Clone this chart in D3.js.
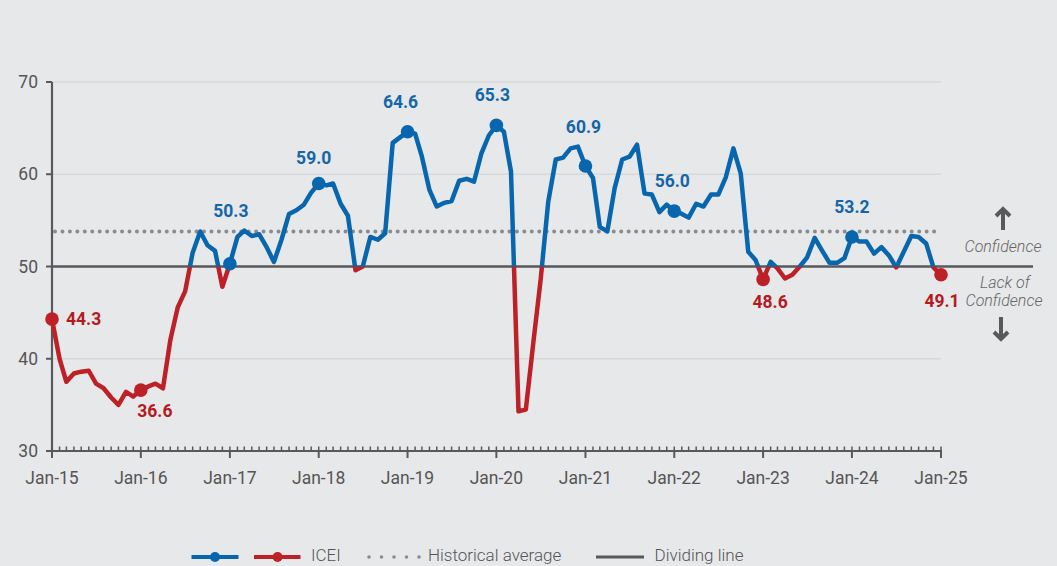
<!DOCTYPE html>
<html><head><meta charset="utf-8">
<script src="https://cdn.jsdelivr.net/npm/d3@7"></script>
<style>
html,body{margin:0;padding:0;background:#e7e8ea;}
svg{display:block;font-family:Roboto,"Open Sans",sans-serif;}
</style></head>
<body>
<svg id="chart" width="1057" height="566"></svg>
<script>
// ---- data ----
const startMonth = new Date(2015, 0, 1);
const iceiValues = [
 44.3,40.0,37.5,38.4,38.6,38.7,37.3,36.8,35.8,35.0,36.4,35.9,
 36.6,37.0,37.3,36.8,42.0,45.6,47.3,51.5,53.8,52.3,51.7,47.8,
 50.3,53.2,53.9,53.3,53.5,52.1,50.5,52.9,55.7,56.1,56.7,58.0,
 59.0,58.8,59.0,56.8,55.5,49.6,50.0,53.2,52.9,53.6,63.4,64.0,
 64.6,64.4,61.9,58.3,56.5,56.9,57.1,59.3,59.5,59.2,62.3,64.2,
 65.3,64.6,60.3,34.3,34.5,41.8,48.6,57.0,61.6,61.8,62.8,63.0,
 60.9,59.6,54.3,53.8,58.5,61.6,61.9,63.2,57.9,57.8,55.9,56.7,
 56.0,55.7,55.3,56.8,56.5,57.8,57.8,59.7,62.8,60.1,51.6,50.7,
 48.6,50.5,49.8,48.7,49.1,50.0,51.0,53.1,51.7,50.4,50.4,50.9,
 53.2,52.7,52.7,51.4,52.1,51.2,49.9,51.6,53.3,53.2,52.5,49.9,
 49.1
];
const highlightIdx = [0,12,24,36,48,60,72,84,96,108,120];
const historicalAverage = 53.8;
const dividingValue = 50;
const yTicks = [30,40,50,60,70];
const xTickLabels = ["Jan-15","Jan-16","Jan-17","Jan-18","Jan-19","Jan-20","Jan-21","Jan-22","Jan-23","Jan-24","Jan-25"];
const legendLabels = ["ICEI","Historical average","Dividing line"];

// ---- layout for the value labels (dx, dy, anchor) ----
const labelLayout = [
 [14,0,"start"],[14,21,"middle"],[1,-53,"middle"],[-5,-26,"middle"],[-7,-30,"middle"],
 [-4,-30,"middle"],[-2,-39,"middle"],[-2,-30,"middle"],[7,22,"middle"],[0,-30,"middle"],[1,26,"middle"]
];

const BLUE = "#0766ad", RED = "#bd2027", DARK = "#58595b", GREY = "#8a8b8d";
const BLUE_T = "#1466a9", RED_T = "#b51a21";

const dates = iceiValues.map((_, i) => d3.timeMonth.offset(startMonth, i));
const data = iceiValues.map((v, i) => ({date: dates[i], value: v, i}));

const svg = d3.select("#chart");
const x = d3.scaleTime().domain([dates[0], dates[dates.length-1]]).range([52, 941]);
const y = d3.scaleLinear().domain([30, 70]).range([451, 82]);

// gridlines
svg.append("g").selectAll("line").data(yTicks.filter(t => t !== 30 && t !== 50)).join("line")
  .attr("x1", x.range()[0]).attr("x2", x.range()[1])
  .attr("y1", d => y(d)).attr("y2", d => y(d))
  .attr("stroke", "#d7d8da").attr("stroke-width", 1.5);

// historical average dotted line
svg.append("line")
  .attr("x1", x.range()[0] + 3).attr("x2", 938)
  .attr("y1", y(historicalAverage)).attr("y2", y(historicalAverage))
  .attr("stroke", GREY).attr("stroke-width", 4)
  .attr("stroke-linecap", "round").attr("stroke-dasharray", "0 7.45");

// dividing line
svg.append("line")
  .attr("x1", x.range()[0]).attr("x2", 1033)
  .attr("y1", y(dividingValue)).attr("y2", y(dividingValue))
  .attr("stroke", DARK).attr("stroke-width", 2.6);

// y axis
const yAxis = svg.append("g");
yAxis.append("line").attr("x1", 52).attr("x2", 52).attr("y1", y(70)).attr("y2", y(30) + 1)
  .attr("stroke", DARK).attr("stroke-width", 2.2);
yAxis.selectAll(".yt").data(yTicks).join("line")
  .attr("x1", 46).attr("x2", 52).attr("y1", d => y(d)).attr("y2", d => y(d))
  .attr("stroke", DARK).attr("stroke-width", 2);
yAxis.selectAll("text").data(yTicks).join("text")
  .attr("x", 38).attr("y", d => y(d)).attr("dy", "0.35em")
  .attr("text-anchor", "end").attr("fill", "#555").attr("font-size", 17.5)
  .text(d => d);

// x axis
const xAxis = svg.append("g");
xAxis.append("line").attr("x1", 51).attr("x2", 942).attr("y1", 451).attr("y2", 451)
  .attr("stroke", DARK).attr("stroke-width", 2.2);
xAxis.selectAll(".minor").data(dates).join("line")
  .attr("x1", d => x(d)).attr("x2", d => x(d))
  .attr("y1", 446.5).attr("y2", 451)
  .attr("stroke", DARK).attr("stroke-width", 1.5);
const yearDates = d3.timeYear.range(dates[0], d3.timeMonth.offset(dates[dates.length-1], 1));
xAxis.selectAll(".major").data(yearDates).join("line")
  .attr("x1", d => x(d)).attr("x2", d => x(d))
  .attr("y1", 451).attr("y2", 458)
  .attr("stroke", DARK).attr("stroke-width", 2);
xAxis.selectAll("text").data(yearDates).join("text")
  .attr("x", d => x(d)).attr("y", 478).attr("dy", "0.35em")
  .attr("text-anchor", "middle").attr("fill", "#555").attr("font-size", 17.5)
  .text((d, i) => xTickLabels[i]);

// ICEI line, split colour at 50
const defs = svg.append("defs");
defs.append("clipPath").attr("id", "clipAbove").append("rect")
  .attr("x", 0).attr("y", 0).attr("width", 1057).attr("height", y(dividingValue));
defs.append("clipPath").attr("id", "clipBelow").append("rect")
  .attr("x", 0).attr("y", y(dividingValue)).attr("width", 1057).attr("height", 566 - y(dividingValue));

const line = d3.line().x(d => x(d.date)).y(d => y(d.value));
svg.append("path").datum(data).attr("d", line)
  .attr("fill", "none").attr("stroke", RED).attr("stroke-width", 4.5)
  .attr("stroke-linejoin", "round").attr("clip-path", "url(#clipBelow)");
svg.append("path").datum(data).attr("d", line)
  .attr("fill", "none").attr("stroke", BLUE).attr("stroke-width", 4.5)
  .attr("stroke-linejoin", "round").attr("clip-path", "url(#clipAbove)");

// highlighted points
const hl = highlightIdx.map(i => data[i]);
svg.append("g").selectAll("circle").data(hl).join("circle")
  .attr("cx", d => x(d.date)).attr("cy", d => y(d.value)).attr("r", 6.8)
  .attr("fill", d => d.value < dividingValue ? RED : BLUE);

svg.append("g").selectAll("text").data(hl).join("text")
  .attr("x", (d, k) => x(d.date) + labelLayout[k][0])
  .attr("y", (d, k) => y(d.value) + labelLayout[k][1])
  .attr("dy", "0.35em")
  .attr("text-anchor", (d, k) => labelLayout[k][2])
  .attr("font-size", 17.5).attr("font-weight", 700)
  .attr("fill", d => d.value < dividingValue ? RED_T : BLUE_T)
  .text(d => d.value.toFixed(1));

// right-side annotations
const ann = svg.append("g").attr("fill", "#666").attr("font-size", 16)
  .attr("font-style", "italic").attr("font-weight", 300).attr("text-anchor", "middle");
ann.append("text").attr("x", 1003).attr("y", 246).attr("dy", "0.35em").text("Confidence");
ann.append("text").attr("x", 1005).attr("y", 282).attr("dy", "0.35em").text("Lack of");
ann.append("text").attr("x", 1004).attr("y", 300).attr("dy", "0.35em").text("Confidence");

function arrow(cx, yTip, yTail) {
  const dir = yTail > yTip ? 1 : -1;
  svg.append("line").attr("x1", cx).attr("x2", cx).attr("y1", yTip + dir * 2).attr("y2", yTail)
    .attr("stroke", DARK).attr("stroke-width", 4);
  svg.append("path")
    .attr("d", `M${cx-7},${yTip + dir*8} L${cx},${yTip + dir*1} L${cx+7},${yTip + dir*8}`)
    .attr("fill", "none").attr("stroke", DARK).attr("stroke-width", 4)
    .attr("stroke-linejoin", "miter");
}
arrow(1003, 208, 230);
arrow(1001, 340, 317);

// legend
const lg = svg.append("g");
const ly = 557;
[[191.5, 238.5, 215, BLUE], [254, 300.5, 277.6, RED]].forEach(([a, b, c, col]) => {
  lg.append("line").attr("x1", a).attr("x2", b).attr("y1", ly).attr("y2", ly)
    .attr("stroke", col).attr("stroke-width", 4);
  lg.append("circle").attr("cx", c).attr("cy", ly).attr("r", 5).attr("fill", col);
});
lg.append("line").attr("x1", 369).attr("x2", 420).attr("y1", ly).attr("y2", ly)
  .attr("stroke", GREY).attr("stroke-width", 3.6).attr("stroke-linecap", "round")
  .attr("stroke-dasharray", "0 12.5");
lg.append("line").attr("x1", 596).attr("x2", 644).attr("y1", ly).attr("y2", ly)
  .attr("stroke", DARK).attr("stroke-width", 3.2);
[[311, legendLabels[0]], [428, legendLabels[1]], [654.5, legendLabels[2]]].forEach(([lx, t]) => {
  lg.append("text").attr("x", lx).attr("y", 561).attr("font-size", 17)
    .attr("font-weight", 300).attr("fill", "#555").text(t);
});
</script>
</body></html>
